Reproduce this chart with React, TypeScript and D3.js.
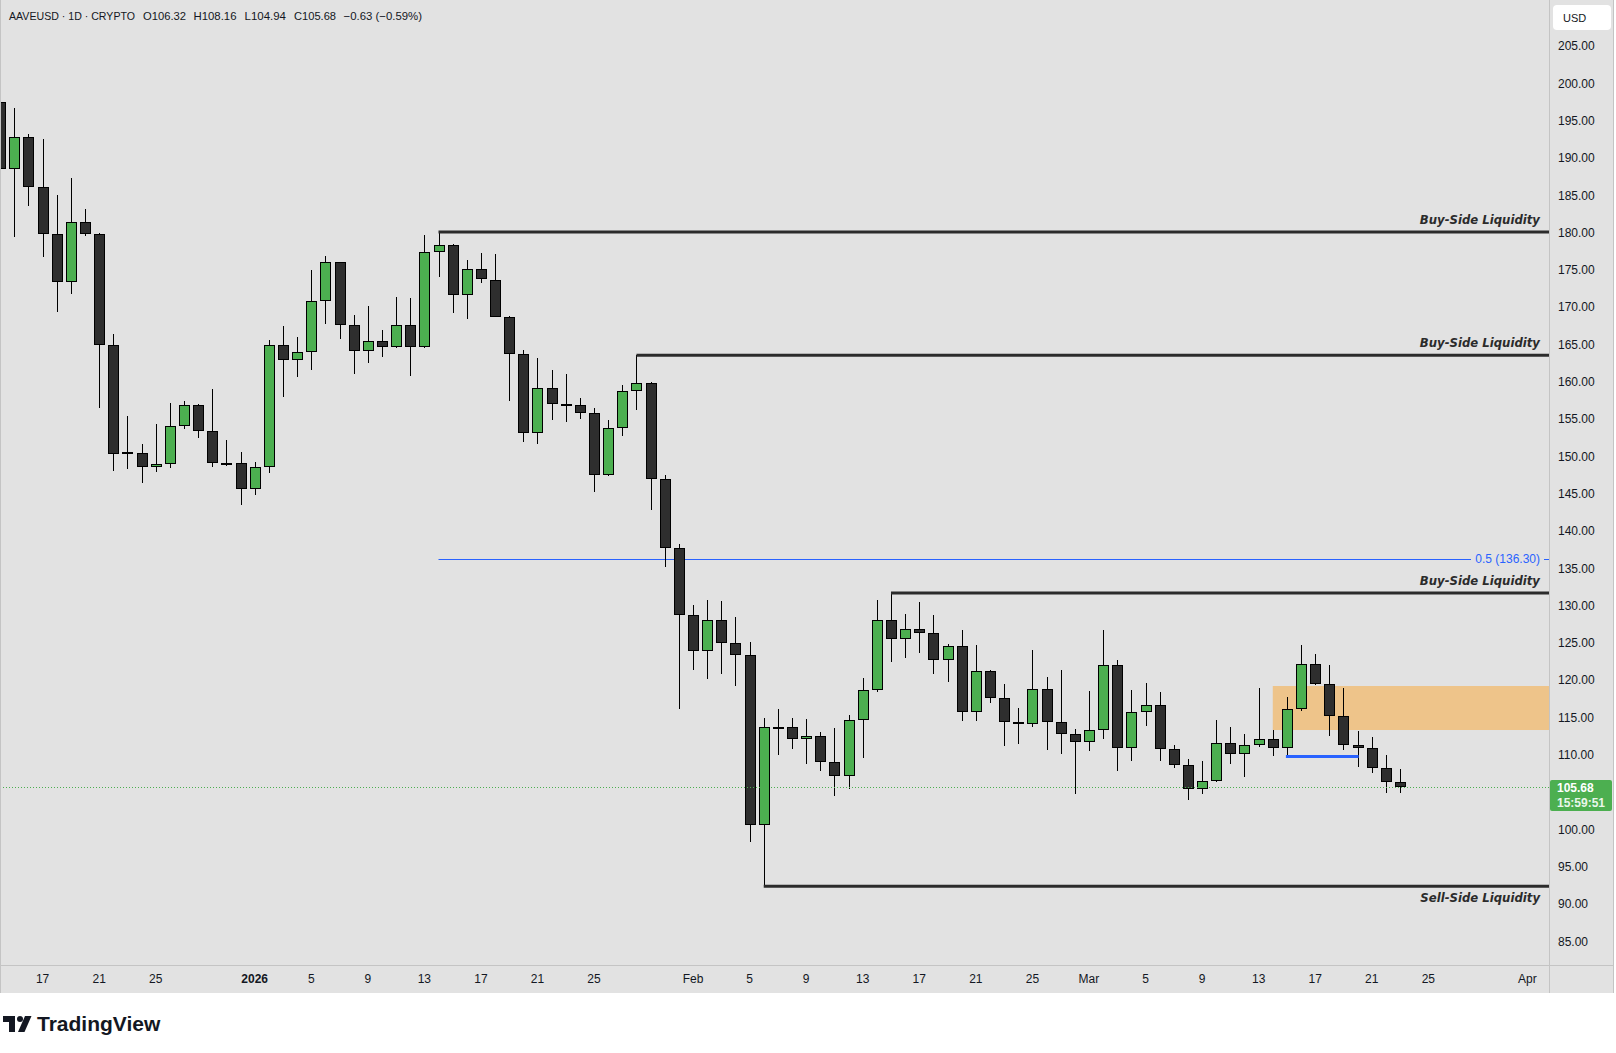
import React from 'react';
import * as d3 from 'd3';

// ---------- DATA ----------
const dates = [
  '2025-12-14','2025-12-15','2025-12-16','2025-12-17','2025-12-18','2025-12-19','2025-12-20','2025-12-21','2025-12-22','2025-12-23',
  '2025-12-24','2025-12-25','2025-12-26','2025-12-27','2025-12-28','2025-12-29','2025-12-30','2025-12-31','2026-01-01','2026-01-02',
  '2026-01-03','2026-01-04','2026-01-05','2026-01-06','2026-01-07','2026-01-08','2026-01-09','2026-01-10','2026-01-11','2026-01-12',
  '2026-01-13','2026-01-14','2026-01-15','2026-01-16','2026-01-17','2026-01-18','2026-01-19','2026-01-20','2026-01-21','2026-01-22',
  '2026-01-23','2026-01-24','2026-01-25','2026-01-26','2026-01-27','2026-01-28','2026-01-29','2026-01-30','2026-01-31','2026-02-01',
  '2026-02-02','2026-02-03','2026-02-04','2026-02-05','2026-02-06','2026-02-07','2026-02-08','2026-02-09','2026-02-10','2026-02-11',
  '2026-02-12','2026-02-13','2026-02-14','2026-02-15','2026-02-16','2026-02-17','2026-02-18','2026-02-19','2026-02-20','2026-02-21',
  '2026-02-22','2026-02-23','2026-02-24','2026-02-25','2026-02-26','2026-02-27','2026-02-28','2026-03-01','2026-03-02','2026-03-03',
  '2026-03-04','2026-03-05','2026-03-06','2026-03-07','2026-03-08','2026-03-09','2026-03-10','2026-03-11','2026-03-12','2026-03-13',
  '2026-03-14','2026-03-15','2026-03-16','2026-03-17','2026-03-18','2026-03-19','2026-03-20','2026-03-21','2026-03-22','2026-03-23',
];
const opens = [
  197.5,188.5,192.9,186.1,179.9,173.4,181.4,179.8,165.0,150.55,
  150.5,148.6,149.0,154.1,156.9,153.4,149.2,149.2,145.7,148.6,
  164.9,162.9,164.0,170.8,176.05,167.7,164.1,165.5,164.65,167.6,
  164.65,177.4,178.3,171.6,175.2,173.7,168.7,163.7,153.1,159.2,
  157.0,156.9,155.9,147.6,153.9,158.75,159.8,147.0,137.7,128.7,
  123.9,128.1,125.0,123.4,100.6,113.7,113.7,112.2,112.5,109.1,
  107.2,114.65,118.7,128.1,125.6,126.85,126.3,122.8,124.6,115.7,
  121.2,117.7,114.4,114.2,118.9,114.4,112.8,111.7,113.4,122.0,
  110.9,115.7,116.7,110.8,108.6,105.4,106.5,111.6,110.1,111.4,
  112.1,111.0,116.1,122.2,119.5,115.2,111.4,111.0,108.2,106.32,
];
const highs = [
  198.5,196.7,193.2,192.6,185.1,187.3,183.2,180.0,166.4,155.4,
  151.7,154.4,157.2,157.4,157.1,159.1,152.2,150.6,149.3,165.6,
  167.5,166.0,175.0,176.9,176.1,169.0,170.2,167.0,171.4,171.3,
  179.7,180.1,178.5,176.4,177.3,177.2,168.8,164.3,163.2,161.6,
  161.1,157.9,156.5,154.9,159.6,163.6,160.0,147.5,138.3,130.1,
  130.8,130.6,128.5,125.15,115.0,116.2,115.0,114.8,113.1,113.6,
  115.4,120.3,130.8,131.7,128.9,130.5,128.8,124.9,126.8,124.75,
  121.4,119.5,116.3,124.1,120.5,121.4,113.5,118.6,126.8,122.8,
  118.7,119.7,118.4,111.3,109.4,109.2,114.7,113.8,112.8,119.0,
  113.4,117.8,124.75,123.5,122.1,119.0,113.2,112.4,110.0,108.16,
];
const lows = [
  187.8,179.5,183.6,176.8,169.4,171.8,179.6,156.5,148.1,148.3,
  146.4,148.0,148.5,153.7,152.5,148.65,148.8,143.55,144.9,147.8,
  157.95,160.7,161.65,167.8,165.8,161.1,162.6,163.3,164.5,160.85,
  164.6,174.1,169.3,168.4,173.3,168.7,157.4,152.0,151.7,154.9,
  154.7,155.1,145.3,147.4,152.8,156.3,142.9,135.2,116.1,121.4,
  120.2,120.8,119.3,98.4,92.4,110.0,110.85,108.8,107.8,104.5,
  105.5,109.6,118.4,122.5,123.0,123.7,120.8,119.8,114.6,114.5,
  117.0,111.25,111.5,113.8,110.7,110.2,104.8,110.6,112.2,107.9,
  109.2,113.9,109.2,108.2,104.0,104.8,106.4,108.8,107.0,111.1,
  109.8,109.8,115.9,119.4,112.6,110.7,108.4,107.6,104.95,104.94,
];
const closes = [
  188.5,192.9,186.1,179.9,173.4,181.4,179.8,165.0,150.4,150.4,
  148.6,149.0,154.1,156.9,153.4,149.2,149.1,145.6,148.6,164.9,
  162.9,164.0,170.8,176.05,167.7,164.1,165.5,164.65,167.6,164.65,
  177.4,178.3,171.6,175.2,173.8,168.7,163.7,153.1,159.2,157.0,
  156.9,155.9,147.6,153.9,158.75,159.8,147.0,137.7,128.7,123.9,
  128.1,125.0,123.4,100.6,113.7,113.65,112.2,112.5,109.1,107.2,
  114.65,118.7,128.1,125.6,126.85,126.3,122.8,124.6,115.7,121.2,
  117.7,114.4,114.1,118.9,114.4,112.8,111.7,113.4,122.0,110.9,
  115.7,116.7,110.8,108.6,105.4,106.5,111.6,110.1,111.4,112.1,
  111.0,116.1,122.2,119.5,115.2,111.4,111.0,108.2,106.32,105.68,
];

const priceTicks = [85,90,95,100,110,115,120,125,130,135,140,145,150,155,160,165,170,175,180,185,190,195,200,205];
const timeTickDates = ['2025-12-17','2025-12-21','2025-12-25','2026-01-01','2026-01-05','2026-01-09','2026-01-13','2026-01-17','2026-01-21','2026-01-25',
  '2026-02-01','2026-02-05','2026-02-09','2026-02-13','2026-02-17','2026-02-21','2026-02-25','2026-03-01','2026-03-05','2026-03-09','2026-03-13',
  '2026-03-17','2026-03-21','2026-03-25','2026-04-01'];
const timeTickLabels = ['17','21','25','2026','5','9','13','17','21','25','Feb','5','9','13','17','21','25','Mar','5','9','13','17','21','25','Apr'];
const timeTickBold = ['2026'];

const liquidityPrices = [180.1, 163.6, 131.7, 92.4];
const liquidityStarts = ['2026-01-14','2026-01-28','2026-02-15','2026-02-06'];
const liquidityLabels = ['Buy-Side Liquidity','Buy-Side Liquidity','Buy-Side Liquidity','Sell-Side Liquidity'];

const fibPrice = 136.3;
const fibStart = '2026-01-14';
const fibLabel = '0.5 (136.30)';

const zoneTop = 119.25;
const zoneBottom = 113.35;
const zoneStart = '2026-03-14';

const levelPrice = 109.8;
const levelStart = '2026-03-15';
const levelEnd = '2026-03-20';

const lastPrice = 105.68;
const countdown = '15:59:51';
const headerParts = ['AAVEUSD · 1D · CRYPTO', 'O106.32', 'H108.16', 'L104.94', 'C105.68', '−0.63 (−0.59%)'];

// ---------- CHART ----------
const W = 1616;
const H = 1053;
const PLOT_R = 1549;
const PLOT_B = 965;
const AXIS_B = 993;
const BG = '#e2e2e2';
const SEP = '#c4c4c4';
const TXT = '#131722';
const GREEN = '#4caf50';
const DARK = '#2e2e2e';
const BLUE = '#2962ff';
const FONT = '"Liberation Sans", Arial, sans-serif';

const parse = d3.utcParse('%Y-%m-%d');

export default function App() {
  const x = d3.scaleUtc()
    .domain([parse('2025-12-15') as Date, parse('2026-04-01') as Date])
    .range([14.3, 1527.3]);
  const y = d3.scaleLinear().domain([85, 205]).range([941.5, 46.3]);

  const candles = dates.map((d, i) => ({
    cx: Math.round(x(parse(d) as Date)),
    o: opens[i], h: highs[i], l: lows[i], c: closes[i],
  }));

  const headerX = [9, 143, 193.5, 244.5, 294, 343.5];
  const headerW = [126, 43, 43, 41.5, 42, 78.5];

  return (
    <svg width={W} height={H} style={{ position: 'absolute', left: 0, top: 0 }} xmlns="http://www.w3.org/2000/svg">
      <rect x={0} y={0} width={W} height={H} fill="#ffffff" />
      <rect x={0} y={0} width={1614} height={AXIS_B} fill={BG} />
      <defs>
        <clipPath id="plot"><rect x={0} y={0} width={PLOT_R} height={PLOT_B} /></clipPath>
      </defs>

      <g clipPath="url(#plot)">
        {/* orange zone */}
        <rect x={x(parse(zoneStart) as Date)} y={y(zoneTop)} width={PLOT_R - x(parse(zoneStart) as Date)}
          height={y(zoneBottom) - y(zoneTop)} fill="#eec48a" />

        {/* fib 0.5 line */}
        <line x1={x(parse(fibStart) as Date)} x2={1471} y1={Math.round(y(fibPrice)) + 0.5} y2={Math.round(y(fibPrice)) + 0.5}
          stroke={BLUE} strokeWidth={1} />
        <line x1={1544} x2={PLOT_R} y1={Math.round(y(fibPrice)) + 0.5} y2={Math.round(y(fibPrice)) + 0.5} stroke={BLUE} strokeWidth={1} />
        <text x={1540} y={y(fibPrice) + 4} textAnchor="end" fontFamily={FONT} fontSize={12} fill={BLUE}>{fibLabel}</text>

        {/* candles */}
        <g shapeRendering="crispEdges">
          {candles.map((k, i) => {
            const top = Math.round(y(Math.max(k.o, k.c)));
            const bot = Math.max(Math.round(y(Math.min(k.o, k.c))), top + 1);
            const up = k.c >= k.o;
            const hgt = bot - top;
            return (
              <g key={i}>
                <rect x={k.cx} y={Math.round(y(k.h))} width={1} height={Math.max(1, Math.round(y(k.l)) - Math.round(y(k.h)))} fill="#000" />
                <rect x={k.cx - 5} y={top} width={11} height={Math.max(hgt, 2)} fill="#000" />
                {hgt > 2 && <rect x={k.cx - 4} y={top + 1} width={9} height={hgt - 2} fill={up ? GREEN : DARK} />}
              </g>
            );
          })}
        </g>

        {/* liquidity lines */}
        {liquidityPrices.map((p, i) => {
          const yy = y(p);
          const below = liquidityLabels[i].startsWith('Sell');
          return (
            <g key={i}>
              <line x1={x(parse(liquidityStarts[i]) as Date)} x2={PLOT_R} y1={yy} y2={yy} stroke="#2b2b2b" strokeWidth={3} />
              <text x={1540} y={below ? yy + 15.5 : yy - 8} textAnchor="end" fontFamily='"DejaVu Sans", sans-serif'
                fontWeight="bold" fontStyle="italic" fontSize={11.7} fill="#2b2b2b">{liquidityLabels[i]}</text>
            </g>
          );
        })}

        {/* level line */}
        <line x1={x(parse(levelStart) as Date) - 1} x2={x(parse(levelEnd) as Date) + 1} y1={y(levelPrice)} y2={y(levelPrice)}
          stroke={BLUE} strokeWidth={3} />

        {/* last price dotted line */}
        <line x1={0} x2={PLOT_R} y1={Math.round(y(lastPrice)) + 0.5} y2={Math.round(y(lastPrice)) + 0.5}
          stroke={GREEN} strokeWidth={1} strokeDasharray="1 2" />
      </g>

      {/* separators */}
      <line x1={PLOT_R + 0.5} x2={PLOT_R + 0.5} y1={0} y2={AXIS_B} stroke={SEP} strokeWidth={1} />
      <line x1={0} x2={1614} y1={PLOT_B + 0.5} y2={PLOT_B + 0.5} stroke={SEP} strokeWidth={1} />
      <line x1={0.5} x2={0.5} y1={0} y2={AXIS_B} stroke={SEP} strokeWidth={1} />
      <line x1={1613.5} x2={1613.5} y1={0} y2={AXIS_B} stroke={SEP} strokeWidth={1} />

      {/* header */}
      {headerParts.map((t, i) => (
        <text key={i} x={headerX[i]} y={20} fontFamily={FONT} fontSize={11.5} fill={TXT}
          textLength={headerW[i]} lengthAdjust="spacingAndGlyphs">{t}</text>
      ))}

      {/* price axis */}
      <rect x={1553} y={5} width={58} height={25} rx={4} fill="#ffffff" />
      <text x={1563} y={22} fontFamily={FONT} fontSize={11} fill={TXT}>USD</text>
      {priceTicks.map((p) => (
        <text key={p} x={1558} y={y(p) + 4} fontFamily={FONT} fontSize={12} fill={TXT}>{p.toFixed(2)}</text>
      ))}
      <rect x={1550} y={Math.round(y(lastPrice)) - 7} width={62} height={31} rx={2} fill={GREEN} />
      <text x={1557} y={Math.round(y(lastPrice)) + 5} fontFamily={FONT} fontSize={12} fontWeight="bold" fill="#ffffff">{lastPrice.toFixed(2)}</text>
      <text x={1557} y={Math.round(y(lastPrice)) + 20} fontFamily={FONT} fontSize={12} fontWeight="bold" fill="#e9f6ea">{countdown}</text>

      {/* time axis */}
      {timeTickDates.map((d, i) => (
        <text key={d} x={x(parse(d) as Date)} y={983} textAnchor="middle" fontFamily={FONT} fontSize={12}
          fontWeight={timeTickBold.includes(timeTickLabels[i]) ? 'bold' : 'normal'} fill={TXT}>{timeTickLabels[i]}</text>
      ))}

      {/* TradingView logo */}
      <g fill={TXT}>
        <path d="M3,1016 H15 V1032 H9 V1022 H3 Z" />
        <circle cx={20} cy={1019} r={3} />
        <path d="M25,1016 H31.5 L24.5,1032 H18 Z" />
        <text x={37} y={1031} fontFamily={FONT} fontWeight="bold" fontSize={21}>TradingView</text>
      </g>
    </svg>
  );
}
